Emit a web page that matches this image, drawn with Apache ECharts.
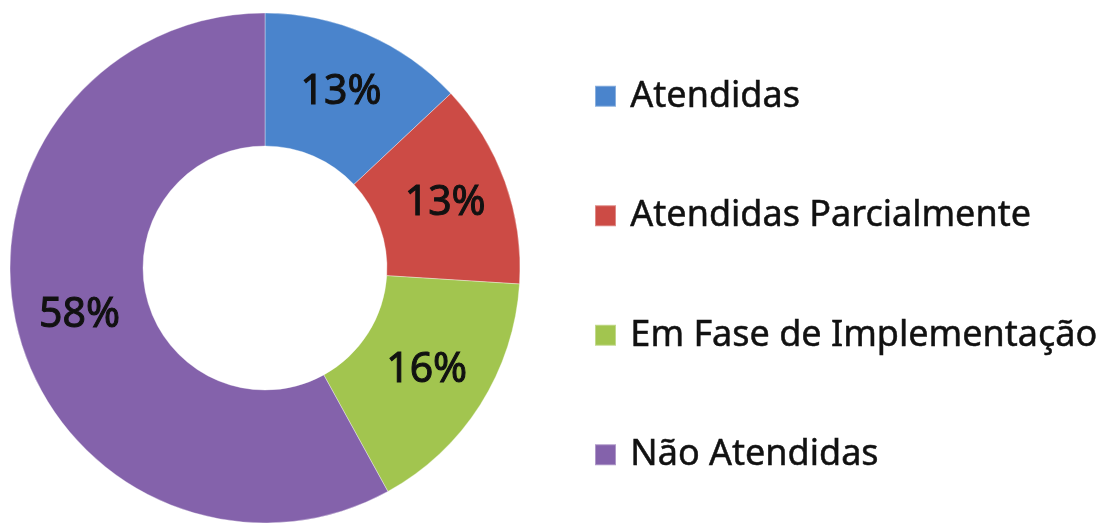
<!DOCTYPE html>
<html>
<head>
<meta charset="utf-8">
<script src="https://cdn.jsdelivr.net/npm/echarts@6/dist/echarts.min.js"></script>
<style>
  html, body { margin: 0; padding: 0; background: #fff; }
  #chart { width: 1099px; height: 523px; }
</style>
</head>
<body>
<div id="chart"></div>
<script>
// dados do gráfico
const categorias = ['Atendidas', 'Atendidas Parcialmente', 'Em Fase de Implementação', 'Não Atendidas'];
const percentuais = [13, 13, 16, 58];
const cores = ['#4a84cc', '#cc4b45', '#a2c54f', '#8462ab'];

const myChart = echarts.init(document.getElementById('chart'));

const option = {
  backgroundColor: '#fff',
  animation: false,
  color: cores,
  legend: {
    orient: 'vertical',
    left: 589,
    top: 73,
    itemWidth: 21,
    itemHeight: 21,
    itemGap: 83,
    icon: 'rect',
    formatter: name => ' ' + name,
    textStyle: {
      fontFamily: 'Noto Sans',
      fontSize: 36,
      lineHeight: 36,
      color: '#111',
      textBorderColor: '#111',
      textBorderWidth: 0.5
    },
    data: categorias
  },
  series: [{
    type: 'pie',
    center: [265, 268],
    radius: [122, 255],
    startAngle: 90,
    clockwise: true,
    avoidLabelOverlap: false,
    label: {
      show: true,
      position: 'inside',
      formatter: '{c}%',
      fontFamily: 'Noto Sans',
      fontSize: 41,
      color: '#111',
      textBorderColor: '#111',
      textBorderWidth: 1
    },
    labelLine: {show: false},
    itemStyle: {
      borderColor: 'rgba(255,255,255,0.35)',
      borderWidth: 1
    },
    data: categorias.map((nome, i) => ({name: nome, value: percentuais[i]}))
  }]
};
myChart.setOption(option);
</script>
</body>
</html>
